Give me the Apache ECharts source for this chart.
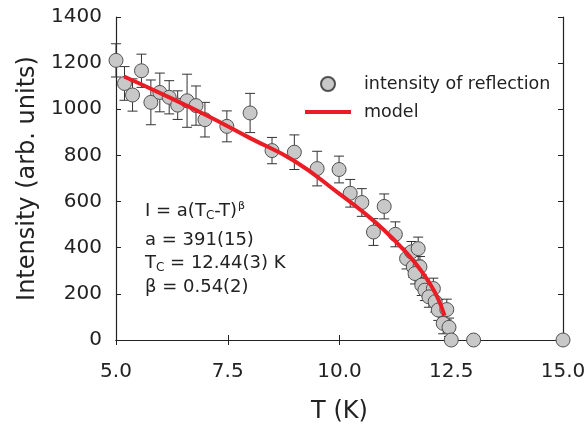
<!DOCTYPE html>
<html>
<head>
<meta charset="utf-8">
<script src="https://cdn.jsdelivr.net/npm/echarts@6/dist/echarts.min.js"></script>
<style>
  html, body { margin: 0; padding: 0; background: #fff; }
  #chart { width: 587px; height: 425px; }
</style>
</head>
<body>
<div id="chart"></div>
<script>
// measured points: temperature (K), intensity, error
const temps = [5.0, 5.19, 5.37, 5.57, 5.78, 5.98, 6.19, 6.38, 6.59, 6.79, 6.99, 7.48, 8.0, 8.49, 8.99, 9.5, 9.99,
  10.24, 10.5, 10.76, 11.0, 11.25, 11.5, 11.61, 11.76, 11.65, 11.8, 11.69, 11.84, 11.91, 12.1, 12.0, 12.14,
  12.21, 12.4, 12.32, 12.45, 12.5, 13.0, 15.0]
const intensity = [1212, 1112, 1062, 1167, 1030, 1073, 1052, 1018, 1037, 1016, 955, 926, 984, 821, 814, 743, 739,
  636, 596, 468, 579, 458, 353, 382, 396, 317, 317, 288, 238, 216, 223, 187, 166,
  130, 132, 72, 55, 0, 0, 0]
const errors = [72, 73, 70, 72, 97, 84, 72, 62, 115, 85, 75, 67, 85, 57, 75, 75, 58,
  60, 60, 58, 54, 54, 45, 45, 50, 45, 45, 45, 45, 45, 45, 45, 45,
  45, 45, 45, 40, 0, 0, 0]

// model curve
const modelT = [5.18, 6.0, 7.0, 8.0, 9.0, 10.0, 10.5, 11.0, 11.5, 11.8, 12.0, 12.2, 12.35]
const modelI = [1142, 1069, 976, 875, 775, 633, 559, 476, 378, 307, 251, 181, 106]

const xTicks = { min: 5, max: 15, step: 2.5 }
const yTicks = { min: 0, max: 1400, step: 200 }

const FONT = 'DejaVu Sans'
const AXIS = '#222'

const points = temps.map((t, i) => [t, intensity[i]])
const bars = temps.map((t, i) => [t, intensity[i] - errors[i], intensity[i] + errors[i]]).filter((d, i) => errors[i] > 0)
const model = modelT.map((t, i) => [t, modelI[i]])

const chart = echarts.init(document.getElementById('chart'))

const axisCommon = {
  axisLine: { show: true, lineStyle: { color: AXIS, width: 1.2 } },
  axisTick: { show: true, inside: true, length: 5, lineStyle: { color: AXIS } },
  splitLine: { show: false }
}

chart.setOption({
  animation: false,
  grid: { left: 116, right: 24, top: 17, bottom: 85, containLabel: false, outerBoundsMode: 'none' },
  xAxis: [
    Object.assign({
      type: 'value', min: xTicks.min, max: xTicks.max, interval: xTicks.step,
      axisLabel: { margin: 22, fontSize: 20, fontFamily: FONT, color: AXIS, formatter: v => v.toFixed(1) },
      name: 'T (K)', nameLocation: 'middle', nameGap: 60,
      nameTextStyle: { fontSize: 24, fontFamily: FONT, color: AXIS }
    }, axisCommon),
    Object.assign({
      type: 'value', position: 'top', min: xTicks.min, max: xTicks.max, interval: xTicks.step,
      axisLabel: { show: false }
    }, axisCommon)
  ],
  yAxis: [
    Object.assign({
      type: 'value', min: yTicks.min, max: yTicks.max, interval: yTicks.step,
      axisLabel: { margin: 14, fontSize: 20, fontFamily: FONT, color: AXIS, formatter: v => String(v) },
      name: 'Intensity (arb. units)', nameLocation: 'middle', nameGap: 67,
      nameTextStyle: { fontSize: 24, fontFamily: FONT, color: AXIS }
    }, axisCommon),
    Object.assign({
      type: 'value', position: 'right', min: yTicks.min, max: yTicks.max, interval: yTicks.step,
      axisLabel: { show: false }
    }, axisCommon)
  ],
  legend: {
    orient: 'vertical', left: 300, top: 70, itemWidth: 46, itemHeight: 14, itemGap: 10,
    textStyle: { fontSize: 17.5, fontFamily: FONT, color: AXIS, padding: [0, 0, 0, 8] },
    data: [
      { name: 'intensity of reflection', icon: 'circle' },
      { name: 'model', icon: 'path://M0 0H46V4H0Z' }
    ]
  },
  series: [
    {
      name: 'errorbars',
      type: 'custom',
      data: bars,
      z: 2,
      renderItem: (params, api) => {
        const top = api.coord([api.value(0), api.value(2)])
        const bot = api.coord([api.value(0), api.value(1)])
        const w = 5
        const st = { stroke: '#333', lineWidth: 1 }
        return {
          type: 'group',
          children: [
            { type: 'line', shape: { x1: top[0], y1: top[1], x2: bot[0], y2: bot[1] }, style: st },
            { type: 'line', shape: { x1: top[0] - w, y1: top[1], x2: top[0] + w, y2: top[1] }, style: st },
            { type: 'line', shape: { x1: bot[0] - w, y1: bot[1], x2: bot[0] + w, y2: bot[1] }, style: st }
          ]
        }
      }
    },
    {
      name: 'intensity of reflection',
      type: 'scatter',
      data: points,
      symbol: 'circle',
      symbolSize: 14,
      z: 3,
      itemStyle: { color: '#c8c8c8', borderColor: '#505050', borderWidth: 1, opacity: 1 }
    },
    {
      name: 'model',
      type: 'line',
      data: model,
      smooth: true,
      showSymbol: false,
      symbol: 'none',
      z: 4,
      lineStyle: { color: '#ec1c24', width: 4 },
      itemStyle: { color: '#ec1c24' }
    }
  ],
  graphic: [
    {
      type: 'text', left: 145, top: 201,
      style: {
        text: 'I = a(T{s|C}-T){p|β}',
        fontSize: 18, fontFamily: FONT, fill: AXIS,
        rich: {
          s: { fontSize: 12, fontFamily: FONT, fill: AXIS, padding: [9, 0, 0, 0] },
          p: { fontSize: 11, fontFamily: FONT, fill: AXIS, padding: [0, 0, 10, 1] }
        }
      }
    },
    {
      type: 'text', left: 145, top: 231,
      style: { text: 'a = 391(15)', fontSize: 18, fontFamily: FONT, fill: AXIS }
    },
    {
      type: 'text', left: 145, top: 254,
      style: {
        text: 'T{s|C} = 12.44(3) K',
        fontSize: 18, fontFamily: FONT, fill: AXIS,
        rich: { s: { fontSize: 12, fontFamily: FONT, fill: AXIS, padding: [9, 0, 0, 0] } }
      }
    },
    {
      type: 'text', left: 145, top: 278,
      style: { text: 'β = 0.54(2)', fontSize: 18, fontFamily: FONT, fill: AXIS }
    }
  ]
})
</script>
</body>
</html>
